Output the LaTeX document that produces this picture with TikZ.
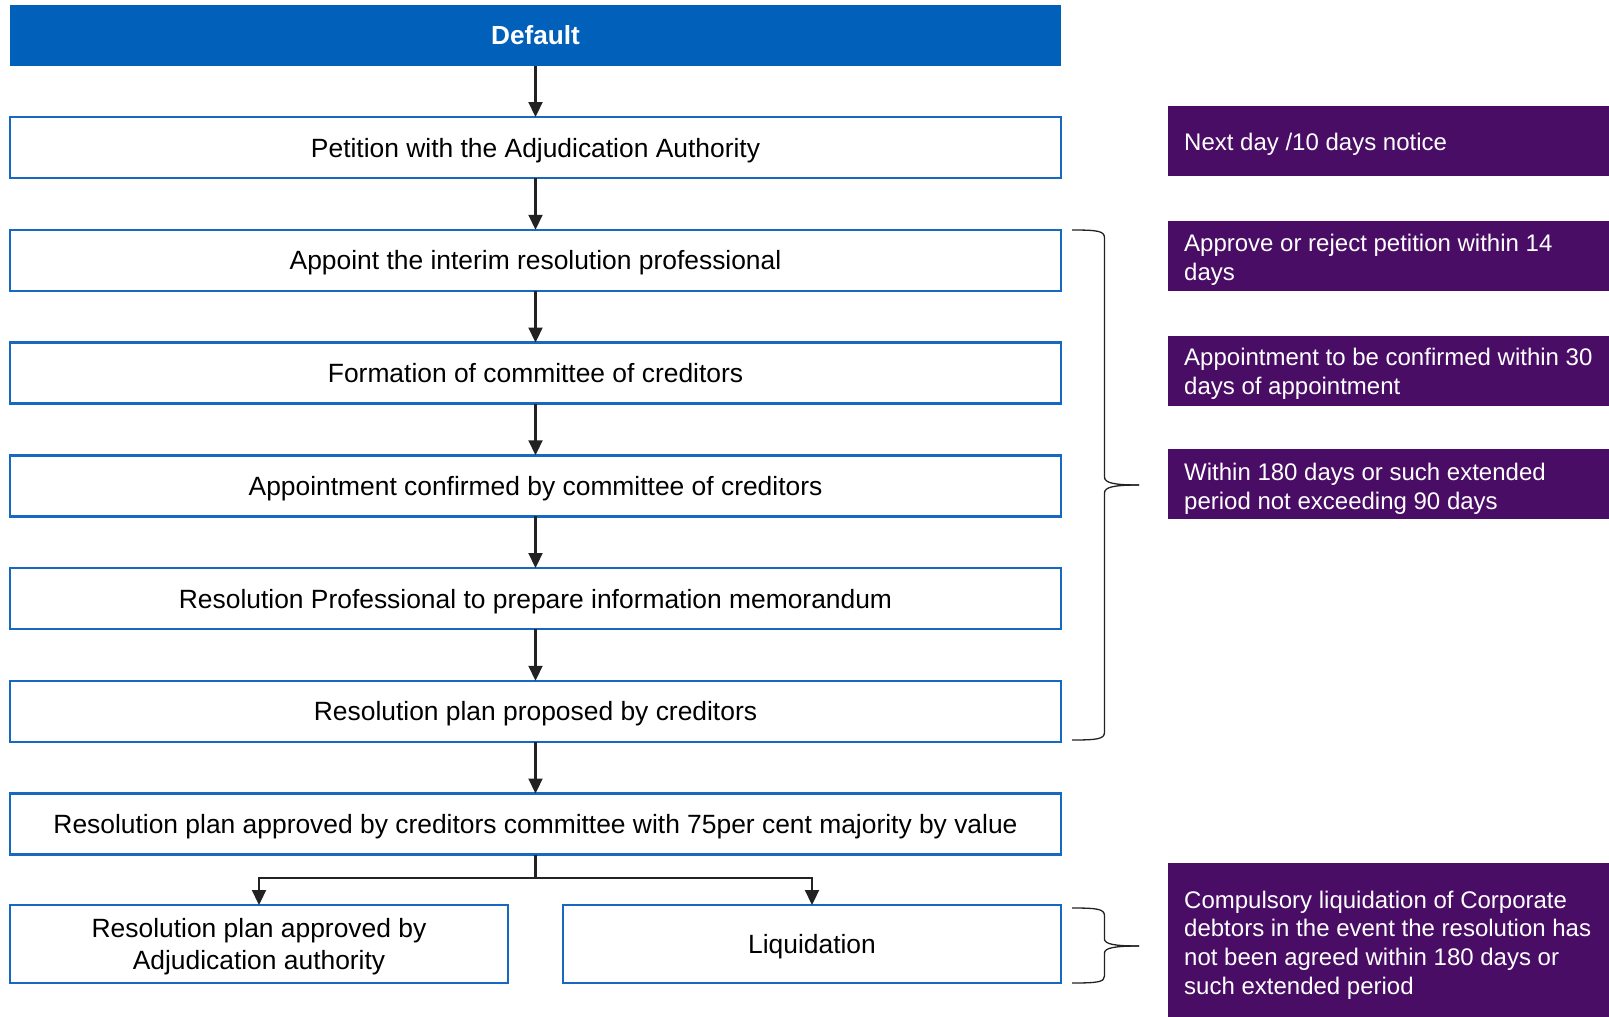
\documentclass[tikz,border=0pt]{standalone}
\usepackage{fontspec}
\setmainfont{Liberation Sans}
\usetikzlibrary{arrows.meta}
\definecolor{hdrblue}{RGB}{1,96,185}
\definecolor{bdrblue}{RGB}{22,104,192}
\definecolor{purp}{RGB}{74,13,102}
\definecolor{arrgray}{RGB}{34,34,34}
\tikzset{
  flowbox/.style={draw=bdrblue, line width=2.5pt, fill=white, minimum width=1051pt, minimum height=61pt,
    inner sep=0pt, outer sep=0pt, text depth=0pt, font=\fontsize{26.4}{32.2}\selectfont, align=center},
  halfbox/.style={flowbox, minimum width=498pt, minimum height=78pt},
  hdrbox/.style={fill=hdrblue, minimum width=1051pt, minimum height=61pt, inner sep=0pt, outer sep=0pt,
    text=white, text depth=0pt, font=\fontsize{26.2}{32}\selectfont\bfseries},
  notebox/.style={fill=purp, minimum width=441pt, minimum height=70pt, inner sep=0pt, outer sep=0pt},
  notetext/.style={anchor=west, text=white, align=left, inner sep=0pt, font=\fontsize{24}{28.7}\selectfont},
  flowarrow/.style={draw=arrgray, line width=2.2pt, -{Triangle[width=14pt,length=15pt]}},
  flowline/.style={draw=arrgray, line width=2.2pt},
  bracepath/.style={draw=arrgray, line width=1.3pt}
}
\begin{document}
\begin{tikzpicture}[x=1pt,y=-1pt]
\useasboundingbox (0,0) rectangle (1609,1017);
% main chain
\node[hdrbox] (d) at (535.5,35.5) {Default};
\node[flowbox] (p) at (535.5,147.5) {Petition with the Adjudication Authority};
\node[flowbox] (a) at (535.5,260.25) {Appoint the interim resolution professional};
\node[flowbox] (f) at (535.5,373) {Formation of committee of creditors};
\node[flowbox] (c) at (535.5,485.75) {Appointment confirmed by committee of creditors};
\node[flowbox] (r) at (535.5,598.5) {Resolution Professional to prepare information memorandum};
\node[flowbox] (rp) at (535.5,711.25) {Resolution plan proposed by creditors};
\node[flowbox] (ra) at (535.5,824) {Resolution plan approved by creditors committee with 75per cent majority by value};
\node[halfbox] (bl) at (259,944) {Resolution plan approved by\\[-0.3pt]Adjudication authority};
\node[halfbox] (br) at (812,944) {Liquidation};
\draw[flowarrow] (d) -- (p);
\draw[flowarrow] (p) -- (a);
\draw[flowarrow] (a) -- (f);
\draw[flowarrow] (f) -- (c);
\draw[flowarrow] (c) -- (r);
\draw[flowarrow] (r) -- (rp);
\draw[flowarrow] (rp) -- (ra);
\coordinate (j) at (535.5,878);
\draw[flowline] (ra) -- (j);
\draw[flowarrow] (j) -| (bl.north);
\draw[flowarrow] (j) -| (br.north);
% notes
\node[notebox] (n1) at (1388.5,141) {};
\node[notetext] at ([xshift=16pt,yshift=-3.5pt]n1.west) {Next day /10 days notice};
\node[notebox] (n2) at (1388.5,256) {};
\node[notetext] at ([xshift=16pt,yshift=-4pt]n2.west) {Approve or reject petition within 14\\days};
\node[notebox] (n3) at (1388.5,370.5) {};
\node[notetext] at ([xshift=16pt,yshift=-3.5pt]n3.west) {Appointment to be confirmed within 30\\days of appointment};
\node[notebox] (n4) at (1388.5,484) {};
\node[notetext] at ([xshift=16pt,yshift=-4.5pt]n4.west) {Within 180 days or such extended\\period not exceeding 90 days};
\node[notebox, minimum height=154pt] (n5) at (1388.5,940) {};
\node[notetext] at ([xshift=16pt,yshift=-5pt]n5.west) {Compulsory liquidation of Corporate\\debtors in the event the resolution has\\not been agreed within 180 days or\\such extended period};
% braces
\draw[bracepath] (1072,230) .. controls (1098,230) and (1104.5,231) .. (1104.5,238) -- (1104.5,477)
  .. controls (1104.5,483) and (1114,485) .. (1139,485);
\draw[bracepath] (1139,485) .. controls (1114,485) and (1104.5,487) .. (1104.5,493) -- (1104.5,732)
  .. controls (1104.5,739) and (1098,740) .. (1072,740);
\draw[bracepath] (1072,908) .. controls (1098,908) and (1104.5,909) .. (1104.5,916) -- (1104.5,939)
  .. controls (1104.5,944) and (1114,946) .. (1139,946);
\draw[bracepath] (1139,946) .. controls (1114,946) and (1104.5,948) .. (1104.5,953) -- (1104.5,976)
  .. controls (1104.5,982) and (1098,983) .. (1072,983);
\end{tikzpicture}
\end{document}
